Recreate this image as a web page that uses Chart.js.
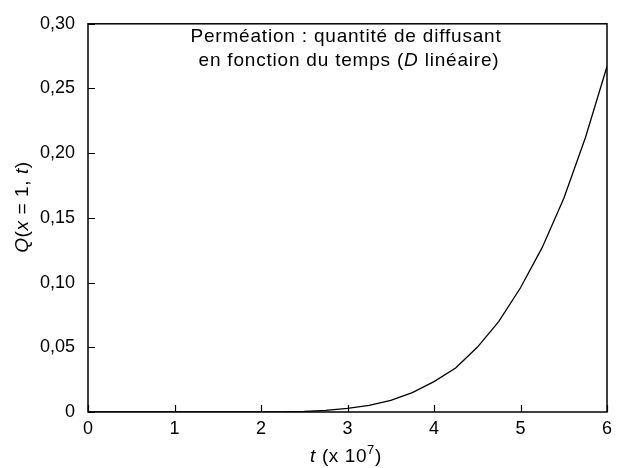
<!DOCTYPE html>
<html>
<head>
<meta charset="utf-8">
<script src="https://cdn.jsdelivr.net/npm/chart.js@4.4.1/dist/chart.umd.min.js"></script>
<style>
  html, body { margin: 0; padding: 0; background: #fff; }
  #wrap { width: 619px; height: 468px; }
</style>
</head>
<body>
<div id="wrap"><canvas id="chart"></canvas></div>
<script>
const times = [0, 0.25, 0.5, 0.75, 1, 1.25, 1.5, 1.75, 2, 2.25, 2.5, 2.75, 3, 3.25, 3.5, 3.75, 4, 4.25, 4.5, 4.75, 5, 5.25, 5.5, 5.75, 6];
const quantity = [0, 0, 0, 0, 0, 0, 0, 0, 0, 0.0001, 0.0004, 0.0012, 0.0028, 0.0052, 0.0089, 0.015, 0.0235, 0.034, 0.05, 0.07, 0.096, 0.127, 0.165, 0.212, 0.267];
const xTicks = [0, 1, 2, 3, 4, 5, 6];
const yTicks = [0, 0.05, 0.1, 0.15, 0.2, 0.25, 0.3];

const FONT = '"Liberation Sans", Arial, Helvetica, sans-serif';

// draw a line of text made of runs with different styles, centred on x
function drawRuns(ctx, runs, x, y, spacing) {
    ctx.letterSpacing = (spacing || 0) + 'px';
    let total = 0;
    runs.forEach((r) => {
        ctx.font = r.font;
        r.w = ctx.measureText(r.text).width;
        total += r.w;
    });
    let cx = x - total / 2;
    runs.forEach((r) => {
        ctx.font = r.font;
        ctx.fillText(r.text, cx, y + (r.dy || 0));
        cx += r.w;
    });
    ctx.letterSpacing = '0px';
}

const framePlugin = {
    id: 'frame',
    afterDraw(chart) {
        const { ctx, chartArea: a, scales } = chart;
        ctx.save();
        ctx.strokeStyle = '#000';
        ctx.lineWidth = 1.5;
        ctx.strokeRect(a.left, a.top, a.right - a.left, a.bottom - a.top);

        // inward ticks
        ctx.lineWidth = 1.2;
        ctx.beginPath();
        xTicks.forEach((v) => {
            const px = Math.round(scales.x.getPixelForValue(v)) + 0.5;
            ctx.moveTo(px, a.bottom);
            ctx.lineTo(px, a.bottom - 7);
        });
        yTicks.forEach((v) => {
            const py = Math.round(scales.y.getPixelForValue(v)) + 0.5;
            ctx.moveTo(a.left, py);
            ctx.lineTo(a.left + 7, py);
        });
        ctx.stroke();

        ctx.fillStyle = '#000';
        ctx.textBaseline = 'alphabetic';
        const n = '19px ' + FONT;
        const it = 'italic 19px ' + FONT;

        // in-plot caption
        drawRuns(ctx, [{ text: 'Perméation : quantité de diffusant', font: n }], 346, 42, 0.8);
        drawRuns(ctx, [
            { text: 'en fonction du temps (', font: n },
            { text: 'D', font: it },
            { text: ' linéaire)', font: n },
        ], 349, 66, 0.8);

        // x axis title
        drawRuns(ctx, [
            { text: 't', font: it },
            { text: ' (x 10', font: n },
            { text: '7', font: '13px ' + FONT, dy: -8 },
            { text: ')', font: n },
        ], 346, 462, 0.6);

        // y axis title
        ctx.translate(28, 207);
        ctx.rotate(-Math.PI / 2);
        drawRuns(ctx, [
            { text: 'Q', font: it },
            { text: '(', font: n },
            { text: 'x', font: it },
            { text: ' = 1, ', font: n },
            { text: 't', font: it },
            { text: ')', font: n },
        ], 0, 0, 0.6);
        ctx.restore();
    },
};

new Chart(document.getElementById('chart'), {
    type: 'line',
    data: {
        datasets: [{
            data: times.map((t, i) => ({ x: t, y: quantity[i] })),
            borderColor: '#000',
            borderWidth: 1.3,
            pointRadius: 0,
            tension: 0,
            fill: false,
        }],
    },
    options: {
        responsive: true,
        maintainAspectRatio: false,
        animation: false,
        layout: { padding: { left: 0, right: 12, top: 17, bottom: 0 } },
        plugins: { legend: { display: false }, tooltip: { enabled: false } },
        scales: {
            x: {
                type: 'linear',
                min: 0,
                max: 6,
                afterFit: (s) => { s.height = 56; },
                afterBuildTicks: (s) => { s.ticks = xTicks.map((v) => ({ value: v })); },
                grid: { display: false, drawTicks: false },
                border: { display: false },
                ticks: { color: '#000', padding: 6, maxRotation: 0, font: { family: FONT, size: 18 } },
            },
            y: {
                min: 0,
                max: 0.3,
                afterFit: (s) => { s.width = 88; },
                afterBuildTicks: (s) => { s.ticks = yTicks.map((v) => ({ value: v })); },
                grid: { display: false, drawTicks: false },
                border: { display: false },
                ticks: {
                    color: '#000',
                    padding: 13,
                    font: { family: FONT, size: 18 },
                    callback: (v) => (v === 0 ? '0' : v.toFixed(2).replace('.', ',')),
                },
            },
        },
    },
    plugins: [framePlugin],
});
</script>
</body>
</html>
